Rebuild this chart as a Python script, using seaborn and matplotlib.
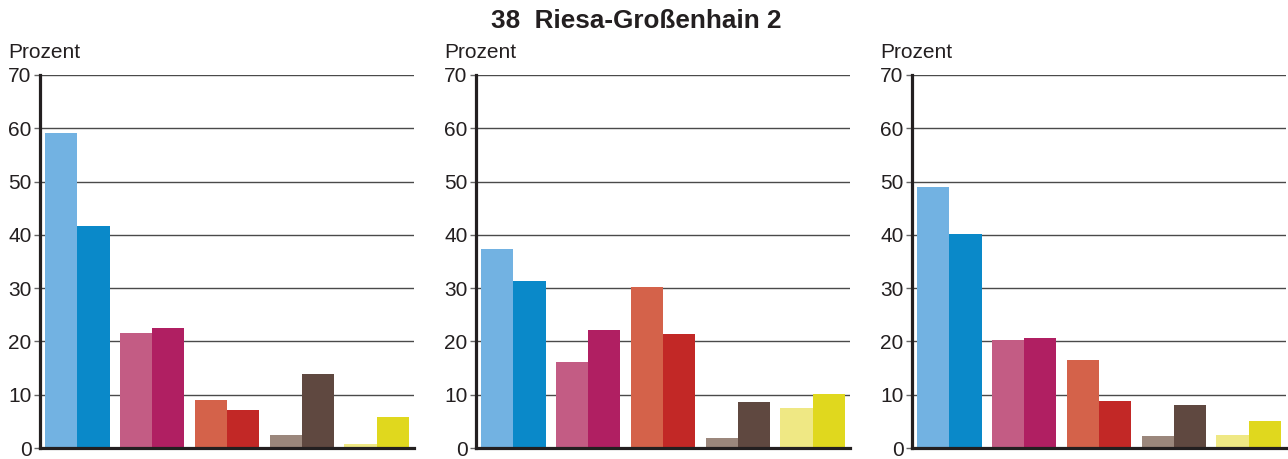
import matplotlib
matplotlib.use("Agg")
import matplotlib.pyplot as plt
import numpy as np
import pandas as pd
import seaborn as sns

# Groups along the x axis and the two series within each group
categories = ["A", "B", "C", "D", "E"]
series = ["früher", "später"]

# Percent values per panel: first series, second series
panel1_first = [59.1, 21.5, 9.0, 2.4, 0.8]
panel1_second = [41.6, 22.5, 7.1, 13.8, 5.9]
panel2_first = [37.3, 16.1, 30.2, 1.8, 7.6]
panel2_second = [31.3, 22.1, 21.4, 8.6, 10.1]
panel3_first = [49.0, 20.2, 16.5, 2.2, 2.4]
panel3_second = [40.1, 20.6, 8.8, 8.0, 5.0]

# Colours: light / dark shade for each group
colors_first = ["#72b2e2", "#c35c84", "#d4624a", "#9b877c", "#efe884"]
colors_second = ["#0a89c9", "#b01f62", "#c22826", "#5f4840", "#e0d81e"]

y_ticks = [0, 10, 20, 30, 40, 50, 60, 70]
title = "38  Riesa-Großenhain 2"
y_label = "Prozent"

sns.set_theme(style="white")
plt.rcParams["font.family"] = ["Liberation Sans", "DejaVu Sans"]

W, H = 1288, 459
fig = plt.figure(figsize=(W / 100, H / 100), dpi=100)

panels = [
    (panel1_first, panel1_second, 40),
    (panel2_first, panel2_second, 476),
    (panel3_first, panel3_second, 912),
]

ax_w, ax_top, ax_bottom = 374, 75, 448

for first, second, left_px in panels:
    ax = fig.add_axes([left_px / W, (H - ax_bottom) / H, ax_w / W, (ax_bottom - ax_top) / H])
    df = pd.DataFrame({
        "Gruppe": categories * 2,
        "Reihe": [series[0]] * 5 + [series[1]] * 5,
        "Wert": list(first) + list(second),
    })
    sns.barplot(data=df, x="Gruppe", y="Wert", hue="Reihe", order=categories,
                hue_order=series, width=0.86, gap=0, dodge=True,
                palette=["#999999", "#333333"], saturation=1, legend=False,
                errorbar=None, ax=ax, zorder=3)
    bar_colors = colors_first + colors_second
    for patch, c in zip(ax.patches, bar_colors):
        patch.set_facecolor(c)
        patch.set_edgecolor("none")
        patch.set_linewidth(0)

    ax.set_xlim(-0.5, 4.5)
    ax.set_ylim(0, 70)
    ax.set_yticks(y_ticks)
    ax.set_yticklabels([str(t) for t in y_ticks], fontsize=15, color="#231f20")
    ax.set_xticks([])
    ax.set_xlabel("")
    ax.set_ylabel("")
    ax.yaxis.grid(True, color="#4a4a4a", linewidth=1.0, zorder=0)
    ax.set_axisbelow(True)
    ax.tick_params(axis="y", left=True, length=4, width=1.0, color="#666666", pad=2)
    for side in ("top", "right"):
        ax.spines[side].set_visible(False)
    for side in ("left", "bottom"):
        ax.spines[side].set_visible(True)
        ax.spines[side].set_color("#231f20")
        ax.spines[side].set_linewidth(2.3)
        ax.spines[side].set_zorder(5)

    fig.text((left_px - 32) / W, (H - 58) / H, y_label, fontsize=15,
             color="#231f20", ha="left", va="baseline")

fig.text(636 / W, (H - 28) / H, title, fontsize=18.8, fontweight="bold",
         color="#231f20", ha="center", va="baseline")

fig.savefig("out.png", dpi=100, facecolor="white")
